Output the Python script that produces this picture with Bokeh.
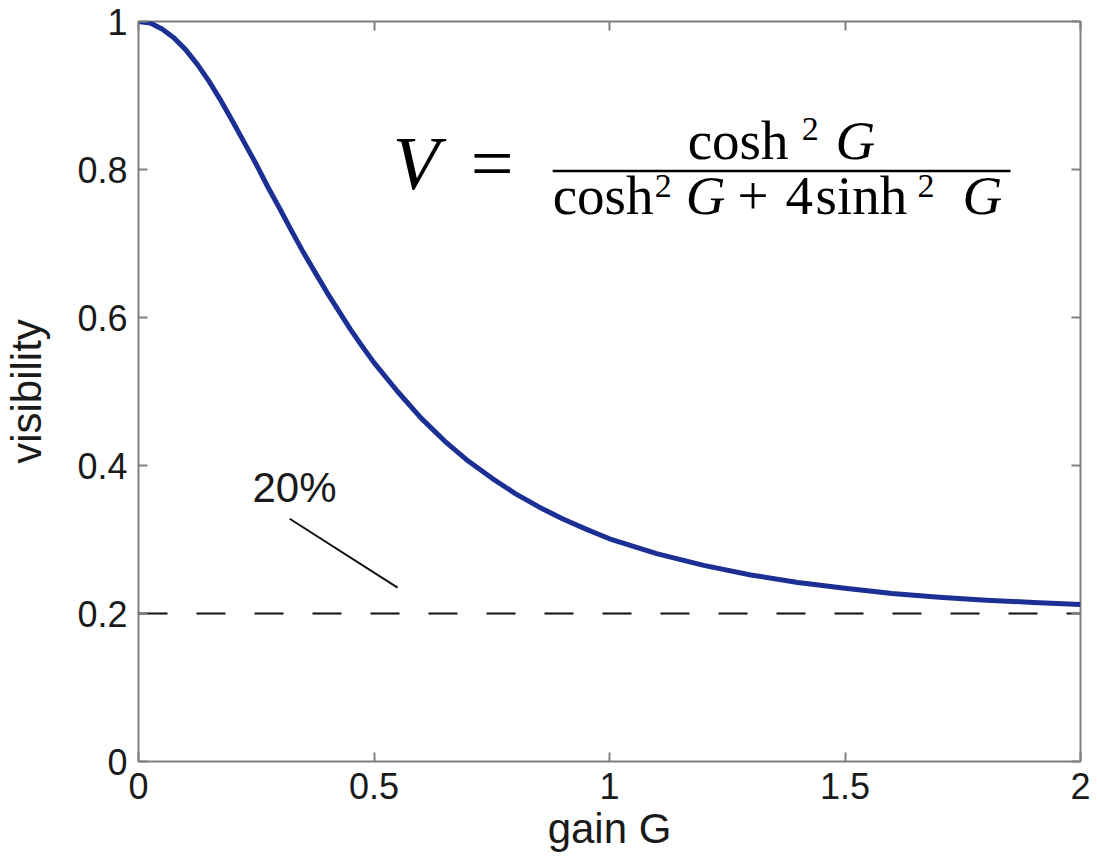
from bokeh.plotting import figure
from bokeh.models import Range1d, LinearAxis, Label, FixedTicker
from bokeh.embed import file_html
from bokeh.resources import INLINE

# ---- data ----
gain = [0.0, 0.025, 0.05, 0.075, 0.1, 0.125, 0.15, 0.175, 0.2, 0.225, 0.25,
        0.275, 0.3, 0.325, 0.35, 0.375, 0.4, 0.425, 0.45, 0.475, 0.5, 0.55,
        0.6, 0.65, 0.7, 0.75, 0.8, 0.85, 0.9, 0.95, 1.0, 1.1, 1.2, 1.3, 1.4,
        1.5, 1.6, 1.7, 1.8, 1.9, 2.0]
visibility = [1.0, 0.998, 0.990, 0.978, 0.962, 0.942, 0.919, 0.893, 0.865,
              0.836, 0.807, 0.776, 0.747, 0.717, 0.688, 0.661, 0.634, 0.609,
              0.584, 0.561, 0.539, 0.500, 0.464, 0.433, 0.406, 0.383, 0.362,
              0.344, 0.328, 0.314, 0.301, 0.281, 0.265, 0.252, 0.242, 0.234,
              0.227, 0.222, 0.218, 0.215, 0.212]
limit_x = [0.0, 2.0]
limit_y = [0.2, 0.2]

x_ticks = [0, 0.5, 1, 1.5, 2]
x_tick_labels = ["0", "0.5", "1", "1.5", "2"]
y_ticks = [0, 0.2, 0.4, 0.6, 0.8, 1]
y_tick_labels = ["0", "0.2", "0.4", "0.6", "0.8", "1"]

GRAY = "#808080"
TXT = "#1a1a1a"

p = figure(width=1097, height=863, output_backend="svg", toolbar_location=None,
           x_range=Range1d(0, 2), y_range=Range1d(0, 1),
           min_border_left=138, min_border_right=17, min_border_top=21,
           min_border_bottom=102, background_fill_color="white",
           border_fill_color="white")
p.grid.visible = False
p.outline_line_color = GRAY
p.outline_line_width = 2

def style_axis(ax, ticks, labels, show_labels=True):
    ax.ticker = FixedTicker(ticks=ticks)
    ax.axis_line_color = None
    ax.major_tick_in = 9
    ax.major_tick_out = 0
    ax.major_tick_line_color = GRAY
    ax.major_tick_line_width = 2
    ax.minor_tick_line_color = None
    if show_labels:
        ax.major_label_overrides = {t: l for t, l in zip(ticks, labels)}
        ax.major_label_text_font = "Liberation Sans"
        ax.major_label_text_font_size = "36px"
        ax.major_label_text_color = TXT
        ax.major_label_standoff = 11
        ax.axis_label_text_font = "Liberation Sans"
        ax.axis_label_text_font_size = "42px"
        ax.axis_label_text_font_style = "normal"
        ax.axis_label_text_color = TXT
    else:
        ax.major_label_overrides = {t: "" for t in ticks}
        ax.major_label_text_font_size = "1px"
        ax.major_label_standoff = 0

style_axis(p.xaxis[0], x_ticks, x_tick_labels)
style_axis(p.yaxis[0], y_ticks, y_tick_labels)
p.xaxis[0].axis_label = "gain G"
p.xaxis[0].axis_label_standoff = 3
p.yaxis[0].axis_label = "visibility"
p.yaxis[0].axis_label_standoff = 24

top_ax = LinearAxis()
right_ax = LinearAxis()
style_axis(top_ax, x_ticks, x_tick_labels, show_labels=False)
style_axis(right_ax, y_ticks, y_tick_labels, show_labels=False)
p.add_layout(top_ax, "above")
p.add_layout(right_ax, "right")

# dashed 20% line
p.line(limit_x, limit_y, line_color="#111111", line_width=2, line_dash="29 29")

# curve
p.line(gain, visibility, line_color="#1b2f95", line_width=5, line_join="round")

# pointer for 20%
p.segment(x0=[0.321], y0=[0.328], x1=[0.550], y1=[0.235],
          line_color="#111111", line_width=2)
p.add_layout(Label(x=0.2420, y=0.3703, text="20%", text_font="Liberation Sans",
                   text_font_size="42px", text_color=TXT,
                   text_baseline="alphabetic", text_align="left"))

# formula
SERIF = "Liberation Serif"
def fl(x, y, text, size, italic=False):
    p.add_layout(Label(x=x, y=y, text=text, text_font=SERIF,
                       text_font_size=size, text_color="#000000",
                       text_font_style="italic" if italic else "normal",
                       text_baseline="alphabetic", text_align="left"))

fl(0.5397, 0.8086, "V", "76px", italic=True)
fl(0.7053, 0.8086, "=", "76px")
p.segment(x0=[0.8793], y0=[0.798], x1=[1.8514], y1=[0.798],
          line_color="#000000", line_width=2.5)
# numerator
fl(1.1659, 0.8390, "cosh", "55px")
fl(1.4080, 0.8543, "2", "34px")
fl(1.4800, 0.8390, "G", "55px", italic=True)
# denominator
fl(0.8793, 0.7646, "cosh", "55px")
fl(1.0960, 0.7773, "2", "34px")
fl(1.1617, 0.7646, "G", "55px", italic=True)
fl(1.2720, 0.7646, "+", "55px")
fl(1.3739, 0.7646, "4", "55px")
fl(1.4376, 0.7646, "sinh", "55px")
fl(1.6541, 0.7773, "2", "34px")
fl(1.7496, 0.7646, "G", "55px", italic=True)

open("out.html", "w").write(file_html(p, INLINE))
